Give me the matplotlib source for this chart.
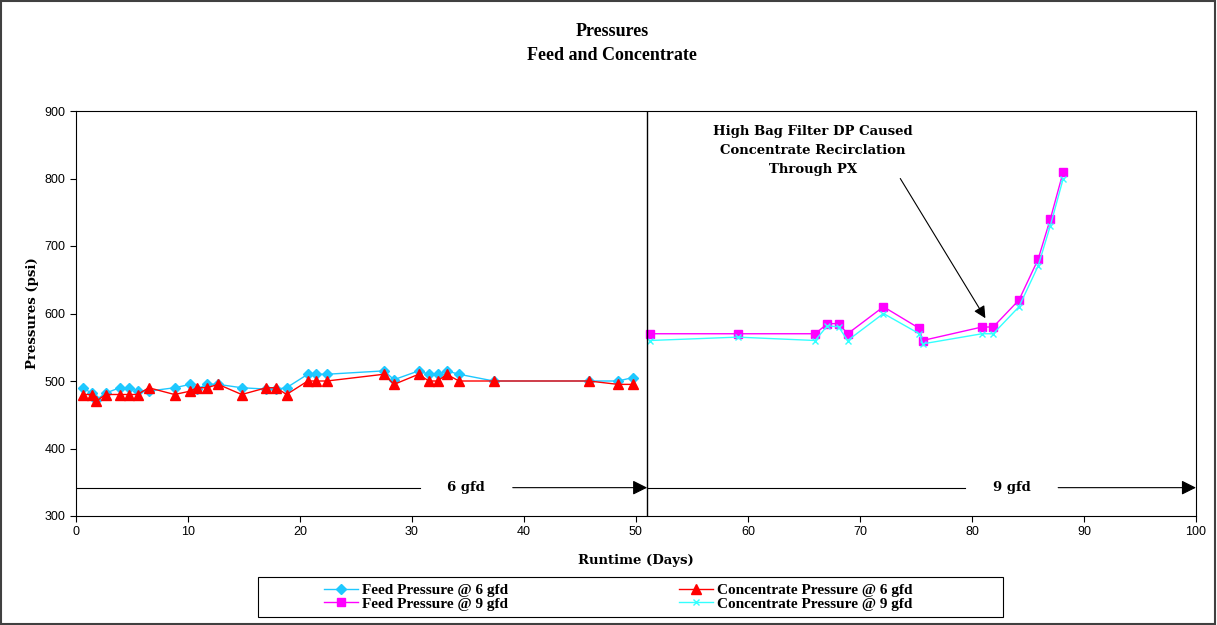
"""
Feed and concentrate pressures over the runtime of the test,
split into the 6 gfd and 9 gfd flux periods.
"""

import matplotlib
matplotlib.use("Agg")
import matplotlib.pyplot as plt
from matplotlib.patches import Rectangle


# ------------------------------------------------------------
# Data
# ------------------------------------------------------------

days_6gfd = [0.6, 1.4, 1.8, 2.65, 3.9, 4.7, 5.5, 6.5, 8.8, 10.2, 10.8,
             11.7, 12.7, 14.8, 17.0, 17.9, 18.8, 20.7, 21.4, 22.4, 27.5,
             28.4, 30.6, 31.5, 32.3, 33.1, 34.2, 37.3, 45.8, 48.4, 49.7]
feed_6gfd = [490, 482, 472, 482, 490, 490, 485, 485, 490, 495, 488,
             495, 495, 490, 488, 488, 490, 510, 510, 510, 515,
             502, 515, 510, 510, 515, 510, 500, 500, 500, 505]
conc_6gfd = [480, 480, 470, 480, 480, 480, 480, 490, 480, 485, 490,
             490, 495, 480, 490, 490, 480, 500, 500, 500, 510,
             495, 510, 500, 500, 510, 500, 500, 500, 495, 495]

days_9gfd = [51.25, 59.1, 66.0, 67.1, 68.1, 68.9, 72.1, 75.3, 75.6,
             80.9, 81.9, 84.2, 85.9, 87.0, 88.15]
feed_9gfd = [570, 570, 570, 585, 585, 570, 610, 578, 560,
             580, 580, 620, 680, 740, 810]
conc_9gfd = [560, 565, 560, 582, 580, 560, 600, 570, 555,
             570, 570, 610, 670, 730, 800]

switch_day = 51
flux_labels = ["6 gfd", "9 gfd"]
note_text = "High Bag Filter DP Caused\nConcentrate Recirclation\nThrough PX"

SERIF_BOLD = dict(family="Liberation Serif", weight="bold")
WIDE_BOLD = dict(family="DejaVu Serif", weight="bold")


# ------------------------------------------------------------
# Figure
# ------------------------------------------------------------

fig = plt.figure(figsize=(12.17, 6.25), dpi=100)
ax = fig.add_axes([0.0624, 0.1744, 0.9203, 0.648])

ax.plot(days_6gfd, feed_6gfd, color="#1EC8FF", lw=1.0, marker="D",
        ms=5.5, label="Feed Pressure @ 6 gfd")
ax.plot(days_6gfd, conc_6gfd, color="#FF0000", lw=1.0, marker="^",
        ms=7, label="Concentrate Pressure @ 6 gfd")
ax.plot(days_9gfd, feed_9gfd, color="#FF00FF", lw=1.0, marker="s",
        ms=6, label="Feed Pressure @ 9 gfd")
ax.plot(days_9gfd, conc_9gfd, color="#33FFFF", lw=1.0, marker="x",
        ms=5, mew=1.0, label="Concentrate Pressure @ 9 gfd")

# flux change divider
ax.axvline(switch_day, color="black", lw=1.0)

# flux period arrows along the bottom
arrow_y = 342
periods = [(0, switch_day, 30.7, 39.0, 34.8),
           (switch_day, 100, 79.4, 87.7, 83.6)]
for (x0, x1, gap0, gap1, xt), lab in zip(periods, flux_labels):
    ax.plot([x0, gap0], [arrow_y, arrow_y], color="black", lw=0.8)
    ax.annotate("", xy=(x1, arrow_y), xytext=(gap1, arrow_y),
                arrowprops=dict(arrowstyle="-|>", color="black", lw=0.8,
                                mutation_scale=22, shrinkA=0, shrinkB=0))
    ax.text(xt, arrow_y, lab, ha="center", va="center", fontsize=9.5,
            **WIDE_BOLD)

# note on the recirculation event
ax.text(65.8, 842, note_text, ha="center", va="center", fontsize=9.5,
        linespacing=1.6, **WIDE_BOLD)
ax.annotate("", xy=(81.2, 593), xytext=(73.6, 800),
            arrowprops=dict(arrowstyle="-|>", color="black", lw=0.8,
                            mutation_scale=18, shrinkA=0, shrinkB=0))

ax.set_xlim(0, 100)
ax.set_ylim(300, 900)
ax.set_xticks(range(0, 101, 10))
ax.set_yticks(range(300, 901, 100))
ax.tick_params(direction="out", length=4, width=0.8, labelsize=9)
for lbl in ax.get_xticklabels() + ax.get_yticklabels():
    lbl.set_family("Liberation Sans")
for sp in ax.spines.values():
    sp.set_color("black")
    sp.set_linewidth(0.8)

ax.set_xlabel("Runtime (Days)", fontsize=9.5, labelpad=11, **WIDE_BOLD)
ax.set_ylabel("Pressures (psi)", fontsize=9.5, labelpad=4, **WIDE_BOLD)

fig.text(0.503, 0.95, "Pressures", ha="center", va="center",
         fontsize=13, **SERIF_BOLD)
fig.text(0.503, 0.912, "Feed and Concentrate", ha="center", va="center",
         fontsize=13, **SERIF_BOLD)

# legend in a box below the plot
handles, labels = ax.get_legend_handles_labels()
order = [0, 2, 1, 3]
leg = fig.legend([handles[i] for i in order], [labels[i] for i in order],
                 loc="center", bbox_to_anchor=(0.508, 0.045), ncol=2,
                 frameon=False, prop=dict(size=11, **SERIF_BOLD),
                 handlelength=2.2, handletextpad=0.25, labelspacing=0.0,
                 columnspacing=11.2, borderpad=0.2)
fig.add_artist(Rectangle((258 / 1217, 8 / 625), 745 / 1217, 40 / 625,
                         transform=fig.transFigure, fill=False,
                         edgecolor="black", lw=0.8))

# outer frame
fig.add_artist(Rectangle((0.001, 0.002), 0.997, 0.996,
                         transform=fig.transFigure, fill=False,
                         edgecolor="#404040", lw=1.5))

fig.savefig("out.png", dpi=100)
